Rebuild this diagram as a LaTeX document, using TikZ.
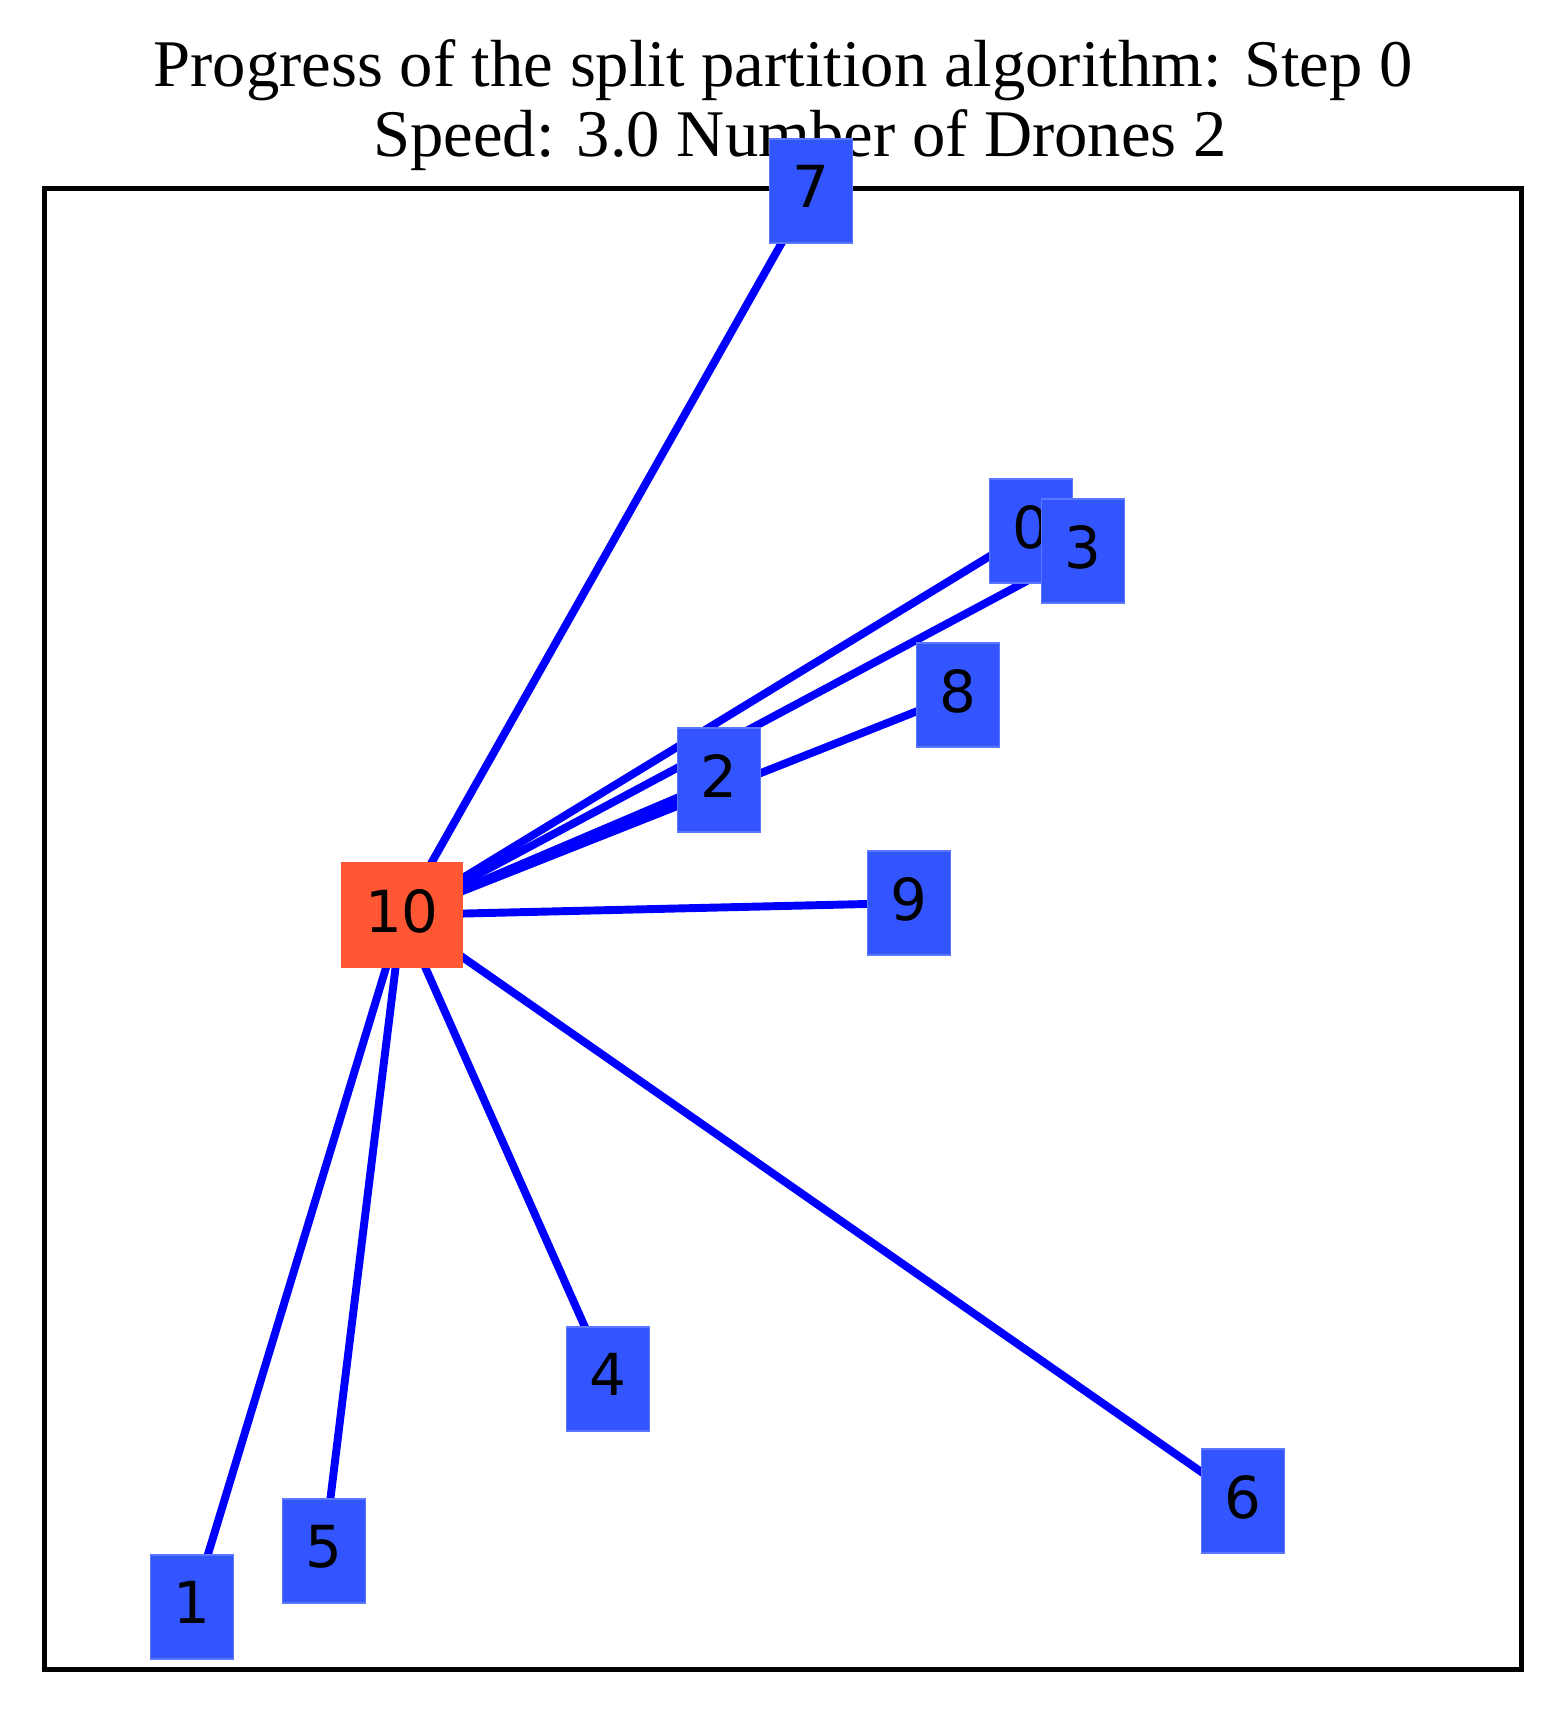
\documentclass[tikz,border=0pt]{standalone}
\usepackage{fontspec}
\setmainfont{Liberation Serif}
\newfontfamily\dronefont{DejaVu Sans}
\usetikzlibrary{backgrounds}
\definecolor{dronefill}{HTML}{3355FF}
\definecolor{depotfill}{HTML}{FF5733}
\definecolor{routeblue}{HTML}{0000FF}

\begin{document}
\begin{tikzpicture}[x=0.24pt, y=-0.24pt,
	drone/.style={rectangle, fill=dronefill, draw=dronefill!80!white, line width=0.3pt,
		font=\dronefont\fontsize{13.9}{14}\selectfont, minimum height=25pt,
		inner xsep=5.6pt, inner ysep=0pt, text depth=2pt},
	depot/.style={drone, fill=depotfill, draw=depotfill},
	route/.style={draw=routeblue, line width=1.9pt},
	titletext/.style={font=\fontsize{16}{16}\selectfont, anchor=base, inner sep=0pt}]
	\useasboundingbox (0,0) rectangle (1565,1712);
	% title
	\node[titletext] (title1) at (783,87) {Progress of the split partition algorithm: Step 0};
	\node[titletext] (title2) at (800,157) {Speed: 3.0 Number of Drones 2};
	% plot frame
	\draw[line width=1.2pt] (44,189) rectangle (1521,1669);
	% drones
	\node[drone] (n0) at (1031,531) {0};
	\node[drone] (n1) at (192,1607) {1};
	\node[drone] (n2) at (719,780) {2};
	\node[drone] (n3) at (1083,551) {3};
	\node[drone] (n4) at (608,1379) {4};
	\node[drone] (n5) at (324,1551) {5};
	\node[drone] (n6) at (1243,1501) {6};
	\node[drone] (n7) at (811,191) {7};
	\node[drone] (n8) at (958,695) {8};
	\node[drone] (n9) at (909,903) {9};
	\node[depot] (n10) at (402,915) {10};
	% routes from the depot
	\begin{scope}[on background layer]
		\foreach \k in {0,...,9}
			\draw[route] (n10.center) -- (n\k.center);
	\end{scope}
\end{tikzpicture}
\end{document}
